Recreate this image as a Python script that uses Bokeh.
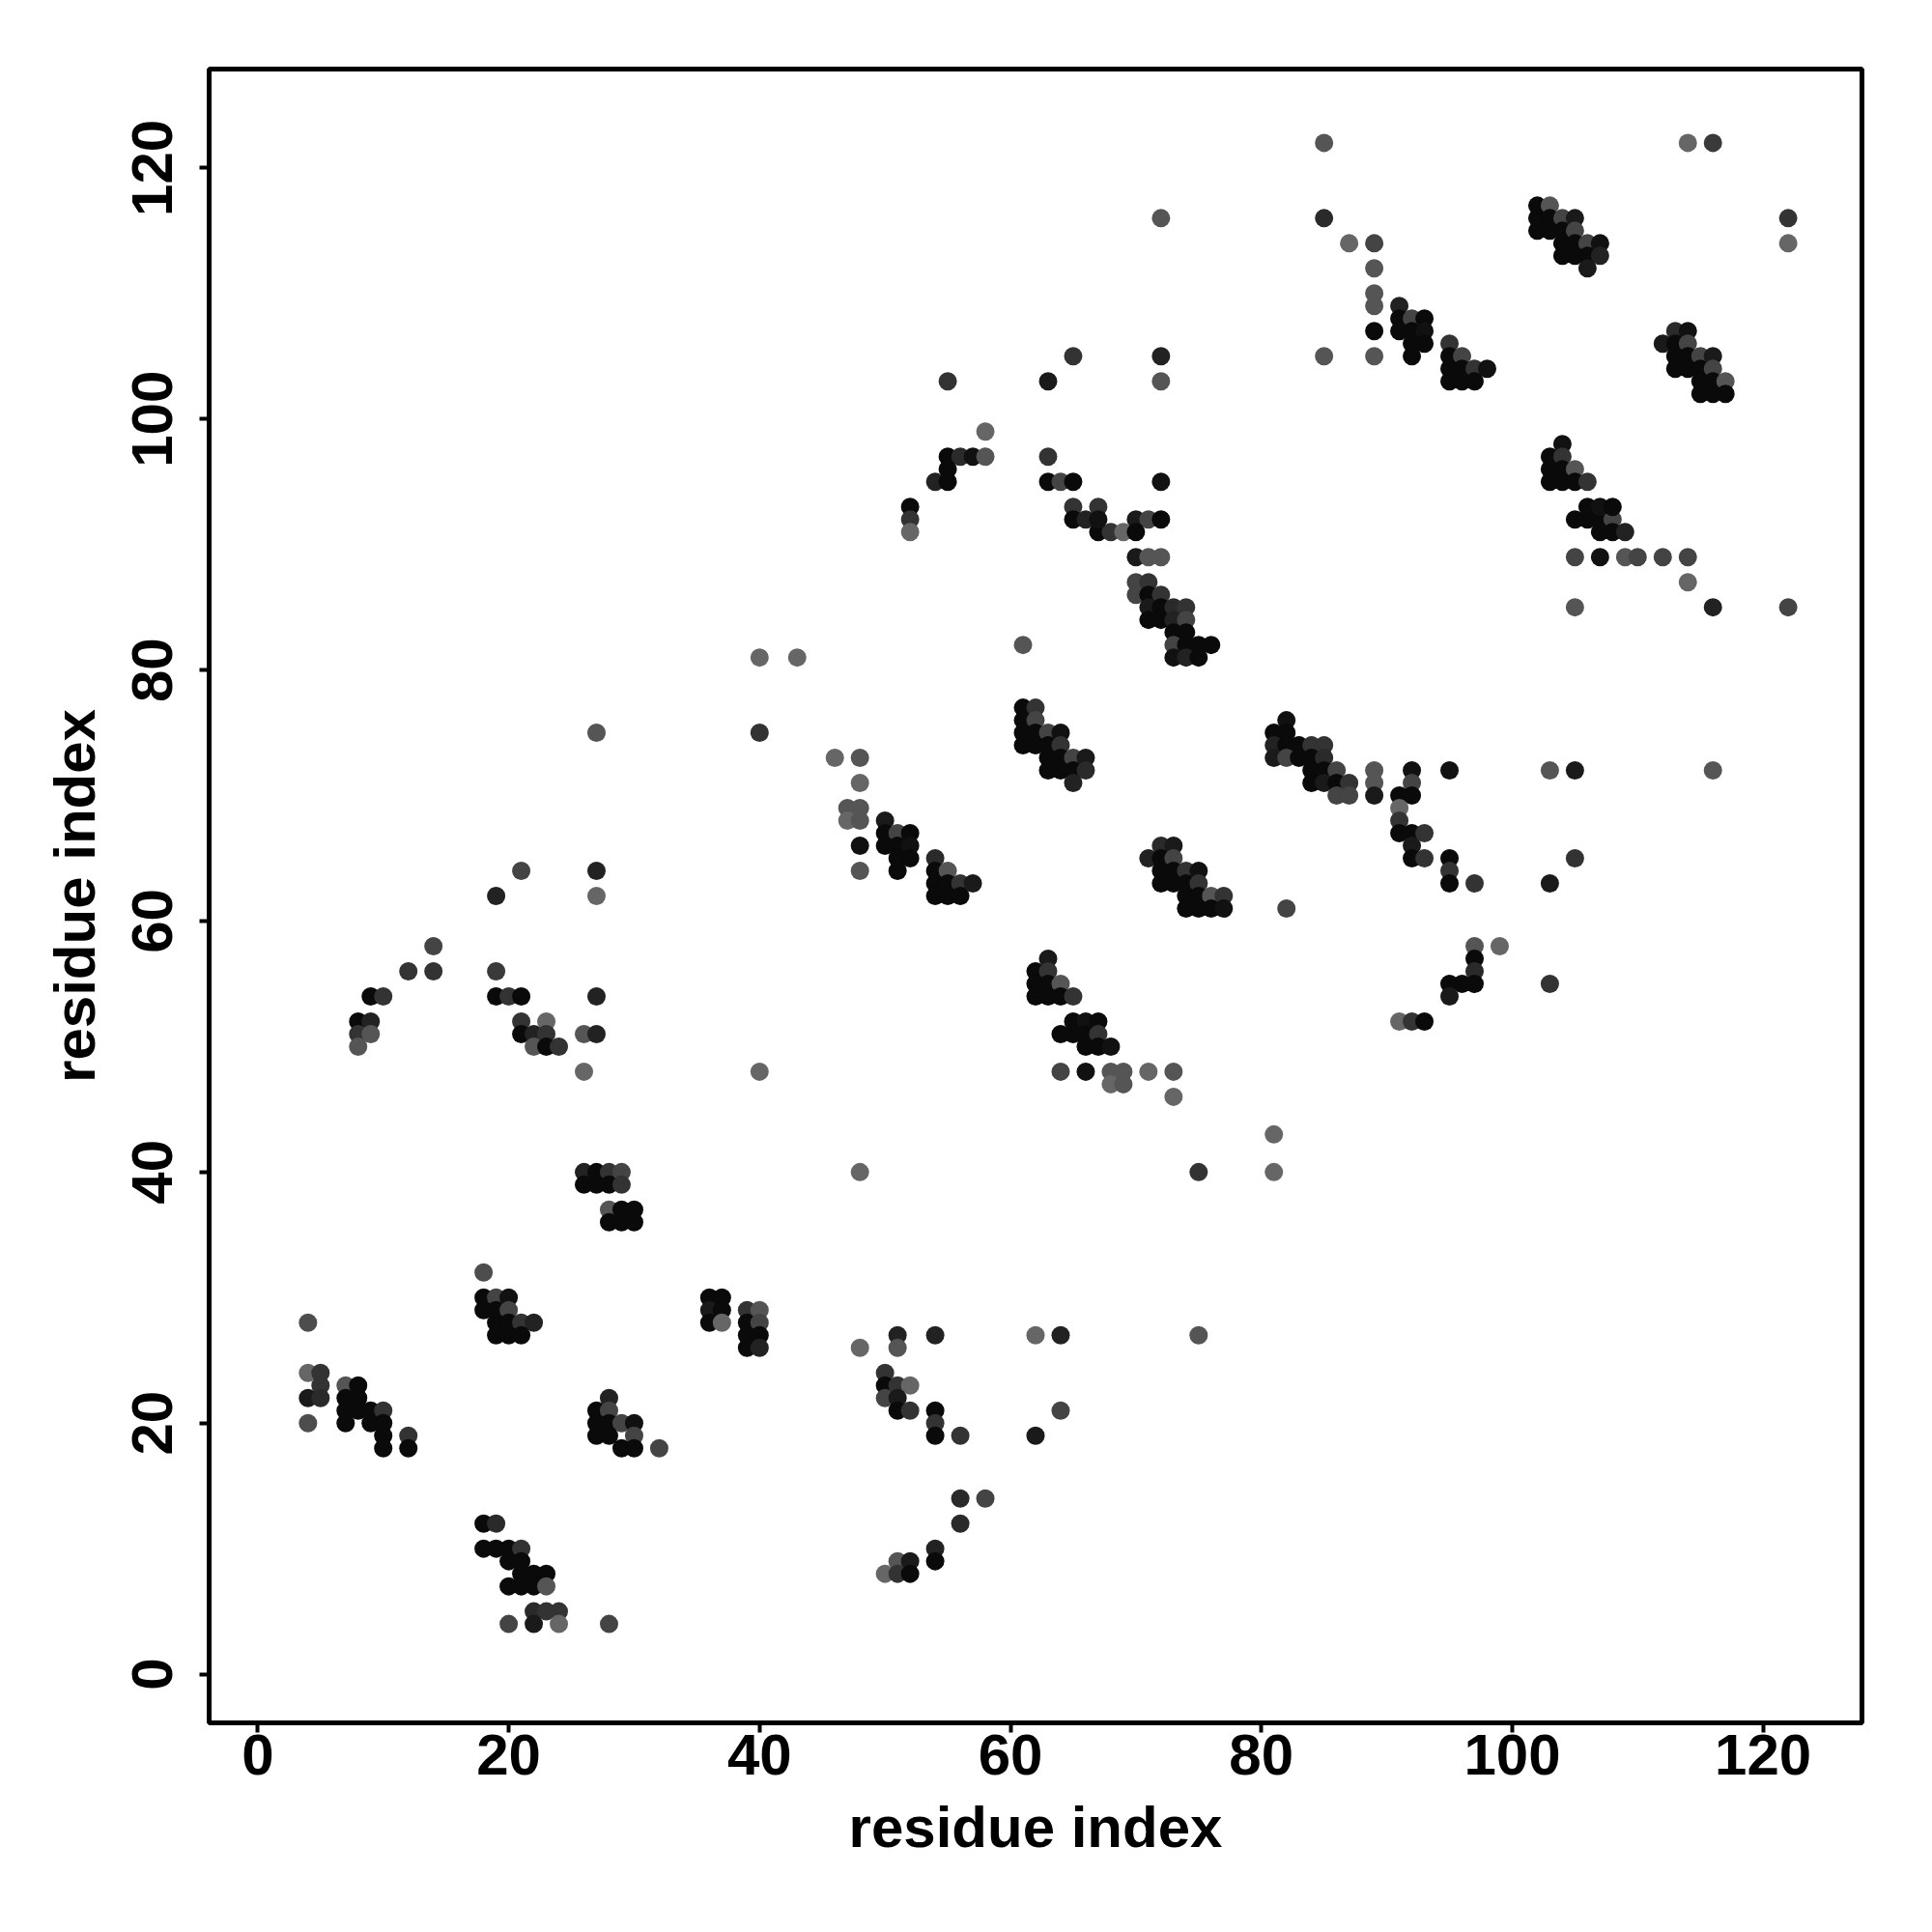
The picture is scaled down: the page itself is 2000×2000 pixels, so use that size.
from bokeh.plotting import figure
from bokeh.models import Range1d, FixedTicker, ColumnDataSource
from bokeh.embed import file_html
from bokeh.resources import INLINE

# residue i (x), residue j (y), grey level of each contact dot (0 = black)
res_i = [
    4, 4, 5, 5, 4, 5, 4, 7, 8, 7, 8, 7, 8, 9, 10, 7, 9, 10, 10, 12, 10, 12,
    18, 18, 19, 20, 18, 19, 20, 19, 20, 21, 22, 19, 20, 21,
    28, 27, 28, 27, 28, 29, 30, 27, 28, 30, 29, 30, 32,
    36, 37, 36, 37, 36, 37, 39, 40, 39, 40, 39, 40, 39, 40,
    18, 19, 18, 19, 20, 21, 20, 21, 21, 22, 23, 20, 21, 22, 23, 22, 23, 24, 20, 22, 24, 28,
    48, 51, 51, 54, 62, 64, 75, 50, 50, 51, 52, 50, 51, 51, 52, 54, 54, 54, 56, 62, 64, 56, 58, 56, 54, 54, 51, 52, 50, 51, 52,
    19, 27, 14, 12, 14, 19, 9, 10, 19, 20, 21, 27, 8, 9, 8, 9, 8, 21, 23, 21, 22, 23, 22, 23, 24, 26, 27, 26, 40,
    26, 27, 28, 29, 26, 27, 28, 29, 28, 29, 30, 28, 29, 30,
    82, 63, 62, 63, 62, 63, 64, 62, 63, 64, 65, 65, 66, 67, 64, 65, 66, 67, 66, 67, 68,
    64, 66, 68, 69, 71, 73, 68, 69, 73, 81, 75, 81, 48,
    97, 99, 97, 97, 95, 96, 97, 95, 103, 91, 92, 93,
    52, 52, 52, 40, 43, 61, 27, 40, 46, 48, 48, 47, 48, 47, 48, 48, 48, 21, 27,
    50, 50, 51, 52, 50, 51, 52, 51, 52, 51, 54, 54, 55, 54, 55, 56, 57, 54, 55, 56,
    61, 62, 61, 62, 61, 62, 63, 64, 61, 62, 63, 64, 63, 64, 65, 66, 63, 64, 65, 66, 65,
    72, 73, 71, 72, 73, 72, 73, 74, 75, 72, 73, 74, 75, 74, 75, 76, 77, 74, 75, 76, 77,
    82, 81, 82, 81, 82, 83, 84, 85, 81, 82, 83, 84, 85, 84, 85, 86, 84, 85, 86, 87, 86, 87,
    89, 89, 89, 92, 92, 91, 92, 91, 91, 91, 92, 92, 92,
    70, 71, 72, 67, 68, 69, 70, 70, 71, 72, 70, 71, 70, 71, 72, 71, 72, 73, 74, 71, 72, 73, 74, 73, 74, 73, 74, 75, 76, 73, 74, 75,
    105, 106, 107, 108, 107, 108, 109,
    105, 107, 109, 110, 112, 114, 114, 105, 116, 122,
    93, 93, 95, 103, 105, 116, 95, 95, 95, 97, 103, 105,
    85, 72, 85, 87, 89, 89, 89, 89, 89, 85, 89, 72, 72, 65, 55, 63, 58, 55, 56, 57, 58, 55, 54, 55, 63, 63, 64, 65, 72, 65, 67, 65, 66, 67,
    114, 116, 122, 122,
    91, 91, 92, 93, 91, 92, 93, 92, 93, 92, 95, 95, 96, 95, 96, 97, 98, 95, 96, 97,
    102, 103, 102, 103, 104, 105, 102, 103, 104, 105, 104, 105, 106, 107, 104, 105, 106, 107, 106,
    112, 113, 114, 113, 114, 113, 114, 115, 116, 113, 114, 115, 116, 115, 116, 117, 115, 116, 117,
    104, 103, 104, 103, 104, 105, 103, 104, 105, 106, 106, 107, 108,
]
res_j = [
    28, 24, 24, 23, 22, 22, 20, 23, 23, 22, 22, 21, 21, 21, 21, 20, 20, 20, 19, 19, 18, 18,
    32, 30, 30, 30, 29, 29, 29, 28, 28, 28, 28, 27, 27, 27,
    22, 21, 21, 20, 20, 20, 20, 19, 19, 19, 18, 18, 18,
    30, 30, 29, 29, 28, 28, 29, 29, 28, 28, 27, 27, 26, 26,
    12, 12, 10, 10, 10, 10, 9, 9, 8, 8, 8, 7, 7, 7, 7, 5, 5, 5, 4, 4, 4, 4,
    26, 27, 26, 27, 27, 27, 27, 24, 23, 23, 23, 22, 22, 21, 21, 21, 20, 19, 19, 19, 21, 14, 14, 12, 10, 9, 9, 9, 8, 8, 8,
    62, 62, 58, 56, 56, 56, 54, 54, 54, 54, 54, 54, 52, 52, 51, 51, 50, 52, 52, 51, 51, 51, 50, 50, 50, 51, 51, 48, 48,
    40, 40, 40, 40, 39, 39, 39, 39, 37, 37, 37, 36, 36, 36,
    61, 57, 56, 56, 55, 55, 55, 54, 54, 54, 54, 52, 52, 52, 51, 51, 51, 51, 50, 50, 50,
    48, 48, 48, 48, 48, 48, 47, 47, 46, 43, 40, 40, 40,
    58, 58, 57, 56, 55, 55, 55, 54, 55, 52, 52, 52,
    93, 92, 91, 81, 81, 82, 75, 75, 73, 73, 71, 69, 69, 68, 68, 66, 64, 64, 64,
    68, 67, 67, 67, 66, 66, 66, 65, 65, 64, 65, 64, 64, 63, 63, 63, 63, 62, 62, 62,
    77, 77, 76, 76, 75, 75, 75, 75, 74, 74, 74, 74, 73, 73, 73, 73, 72, 72, 72, 72, 71,
    66, 66, 65, 65, 65, 64, 64, 64, 64, 63, 63, 63, 63, 62, 62, 62, 62, 61, 61, 61, 61,
    76, 75, 75, 74, 74, 74, 74, 74, 73, 73, 73, 73, 73, 72, 72, 72, 71, 71, 71, 71, 70, 70,
    72, 71, 70, 72, 71, 70, 70, 69, 68, 67, 67, 66, 65,
    92, 92, 92, 91, 91, 91, 91, 89, 89, 89, 87, 87, 86, 86, 86, 85, 85, 85, 85, 84, 84, 84, 84, 83, 83, 82, 82, 82, 82, 81, 81, 81,
    92, 92, 92, 92, 91, 91, 91,
    89, 89, 89, 89, 89, 89, 87, 85, 85, 85,
    67, 65, 72, 72, 72, 72, 65, 64, 63, 63, 63, 65,
    122, 116, 116, 114, 114, 112, 110, 109, 107, 105, 105, 105, 103, 105, 103, 103, 99, 97, 97, 97, 97, 96, 95, 95, 97, 95, 95, 95, 95, 93, 93, 92, 92, 92,
    122, 122, 116, 114,
    109, 108, 108, 108, 107, 107, 107, 106, 106, 105, 106, 105, 105, 104, 104, 104, 104, 103, 103, 103,
    117, 117, 116, 116, 116, 116, 115, 115, 115, 115, 114, 114, 114, 114, 113, 113, 113, 113, 112,
    106, 107, 107, 106, 106, 105, 105, 105, 105, 104, 104, 104, 104, 103, 103, 103, 102, 102, 102,
    98, 97, 97, 96, 96, 96, 95, 95, 95, 95, 93, 93, 93,
]
grey = [
    77, 102, 51, 51, 26, 42, 77, 85, 10, 10, 10, 10, 10, 10, 51, 10, 10, 10, 10, 51, 10, 10,
    77, 10, 68, 17, 10, 10, 68, 10, 10, 51, 34, 10, 10, 10,
    34, 10, 68, 10, 10, 68, 17, 10, 10, 68, 10, 10, 68,
    10, 10, 26, 10, 10, 102, 51, 85, 10, 68, 10, 10, 10, 34,
    10, 42, 10, 10, 10, 51, 10, 10, 10, 10, 10, 10, 10, 10, 85, 42, 51, 51, 68, 26, 102, 68,
    102, 34, 85, 34, 102, 34, 85, 51, 10, 51, 102, 68, 26, 10, 51, 10, 51, 10, 51, 26, 68, 42, 68, 42, 34, 10, 85, 26, 102, 51, 10,
    34, 102, 68, 51, 51, 58, 10, 51, 10, 51, 10, 34, 10, 34, 51, 85, 85, 51, 102, 10, 34, 51, 85, 10, 51, 85, 34, 102, 102,
    34, 10, 51, 68, 10, 10, 10, 51, 85, 10, 10, 10, 10, 10,
    68, 26, 10, 51, 10, 10, 85, 10, 10, 10, 51, 10, 17, 10, 10, 10, 10, 51, 10, 10, 17,
    68, 17, 85, 85, 102, 85, 102, 85, 102, 102, 51, 102, 102,
    85, 102, 10, 42, 10, 10, 10, 26, 51, 102, 51, 10,
    10, 51, 102, 102, 102, 85, 85, 51, 102, 85, 102, 85, 85, 102, 85, 17, 85, 68, 34,
    26, 10, 68, 10, 10, 10, 17, 10, 10, 10, 42, 10, 85, 10, 10, 51, 26, 10, 10, 10,
    10, 51, 10, 68, 10, 10, 68, 17, 10, 10, 10, 51, 10, 10, 68, 26, 10, 10, 10, 42, 34,
    42, 26, 34, 10, 68, 10, 10, 51, 17, 10, 10, 10, 51, 10, 10, 85, 51, 10, 10, 10, 17,
    17, 10, 10, 34, 10, 10, 51, 51, 26, 68, 10, 10, 42, 10, 10, 68, 10, 26, 10, 51, 68, 68,
    85, 85, 26, 17, 68, 10, 10, 102, 51, 10, 10, 26, 10,
    26, 68, 10, 10, 51, 102, 10, 26, 85, 85, 68, 51, 68, 10, 51, 26, 10, 42, 51, 10, 10, 34, 68, 10, 10, 68, 10, 10, 10, 17, 34, 10,
    10, 10, 10, 68, 10, 10, 34,
    68, 17, 85, 68, 68, 68, 102, 85, 34, 68,
    51, 51, 17, 85, 26, 85, 10, 51, 10, 51, 26, 51,
    85, 85, 42, 102, 68, 85, 85, 85, 10, 85, 85, 34, 85, 51, 51, 26, 102, 10, 42, 17, 85, 10, 34, 10, 51, 10, 68, 10, 17, 51, 51, 10, 34, 17,
    102, 58, 51, 102,
    34, 10, 68, 10, 10, 10, 17, 10, 10, 10, 51, 10, 68, 10, 10, 51, 17, 10, 10, 10,
    10, 85, 10, 10, 68, 26, 10, 10, 10, 68, 10, 10, 68, 17, 10, 10, 10, 34, 26,
    26, 42, 17, 10, 68, 10, 10, 68, 26, 10, 10, 10, 68, 10, 10, 85, 10, 10, 10,
    17, 10, 51, 10, 10, 85, 10, 10, 10, 51, 10, 17, 10,
]
tick_values = [0, 20, 40, 60, 80, 100, 120]
x_title = "residue index"
y_title = "residue index"

colors = ["#%02x%02x%02x" % (g, g, g) for g in grey]
src = ColumnDataSource(dict(x=res_i, y=res_j, c=colors))

p = figure(width=1984, height=1984, output_backend="svg", toolbar_location=None,
           x_range=Range1d(-3.88, 127.88), y_range=Range1d(-3.88, 127.88),
           min_border_left=216, min_border_right=57, min_border_top=71,
           min_border_bottom=201)
p.grid.visible = False
p.background_fill_color = "white"
p.border_fill_color = "white"
p.outline_line_color = "black"
p.outline_line_width = 5
p.outline_line_alpha = 1.0

p.scatter("x", "y", source=src, size=19, fill_color="c", line_color=None)

for ax, title in ((p.xaxis[0], x_title), (p.yaxis[0], y_title)):
    ax.ticker = FixedTicker(ticks=tick_values)
    ax.axis_line_color = None
    ax.major_tick_out = 10
    ax.major_tick_in = 0
    ax.major_tick_line_width = 4
    ax.major_tick_line_color = "black"
    ax.minor_tick_line_color = None
    ax.major_label_text_font = "Liberation Sans"
    ax.major_label_text_font_style = "bold"
    ax.major_label_text_font_size = "60px"
    ax.major_label_text_color = "black"
    ax.axis_label = title
    ax.axis_label_text_font = "Liberation Sans"
    ax.axis_label_text_font_style = "bold"
    ax.axis_label_text_font_size = "60px"
    ax.axis_label_text_color = "black"

p.xaxis[0].major_label_standoff = 2
p.xaxis[0].axis_label_standoff = 18
p.yaxis[0].major_label_orientation = "vertical"
p.yaxis[0].major_label_standoff = 28
p.yaxis[0].axis_label_standoff = 24

open("out.html", "w").write(file_html(p, INLINE))
